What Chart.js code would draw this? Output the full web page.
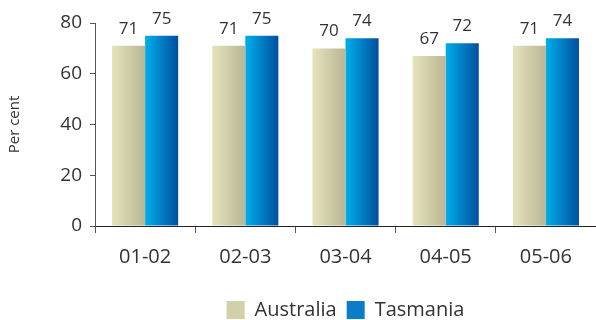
<!DOCTYPE html>
<html><head><meta charset="utf-8">
<script src="https://cdn.jsdelivr.net/npm/chart.js@4/dist/chart.umd.min.js"></script>
<style>html,body{margin:0;padding:0;background:#fff}</style>
</head><body>
<canvas id="c" width="596" height="320"></canvas>
<script>
const categories = ["01-02","02-03","03-04","04-05","05-06"];
const australia = [71,71,70,67,71];
const tasmania = [75,75,74,72,74];
const yTicks = [0,20,40,60,80];
const seriesNames = ["Australia","Tasmania"];

const FONT = "'Open Sans', 'Noto Sans', sans-serif";
const TXT = '#333333';
const gradStops = [['#e4e4bb','#bab594'],['#00aeea','#004f9f']];
const flatColors = ['#d2d0a8','#0a7cc8'];
const CAT_PCT = 0.66;

function barGradient(c){
  const chart = c.chart;
  const ds = c.datasetIndex;
  if (c.type !== 'data' || !chart.chartArea) return flatColors[ds];
  const xs = chart.scales.x;
  const catW = (xs.right - xs.left) / categories.length;
  const barW = catW * CAT_PCT / 2;
  const center = xs.getPixelForValue(c.dataIndex);
  const left = center - barW + ds * barW;
  const g = chart.ctx.createLinearGradient(left, 0, left + barW, 0);
  g.addColorStop(0, gradStops[ds][0]);
  g.addColorStop(1, gradStops[ds][1]);
  return g;
}

const labelPlugin = {
  id:'vals',
  afterDatasetsDraw(chart){
    const ctx = chart.ctx;
    ctx.save();
    ctx.font = "17px " + FONT;
    ctx.fillStyle = TXT;
    ctx.textAlign = 'center';
    ctx.textBaseline = 'alphabetic';
    chart.data.datasets.forEach((ds,i)=>{
      chart.getDatasetMeta(i).data.forEach((el,j)=>{
        ctx.fillText(String(ds.data[j]), el.x, el.y - 12);
      });
    });
    ctx.restore();
  }
};
const legendShift = {
  id:'legendShift',
  afterLayout(chart){
    const lg = chart.legend;
    if (!lg) return;
    const d = (chart.chartArea.left + chart.chartArea.right)/2 - (lg.left + lg.right)/2;
    lg.left += d; lg.right += d;
    const dy = chart.height - lg.bottom + 10;
    lg.top += dy; lg.bottom += dy;
  }
};

new Chart(document.getElementById('c'), {
  type:'bar',
  data:{
    labels: categories,
    datasets:[
      {label:seriesNames[0], data:australia, backgroundColor:barGradient, borderWidth:0},
      {label:seriesNames[1], data:tasmania, backgroundColor:barGradient, borderWidth:0}
    ]
  },
  options:{
    responsive:false, animation:false,
    layout:{padding:{top:23,left:0,right:0,bottom:0}},
    datasets:{bar:{categoryPercentage:CAT_PCT, barPercentage:1}},
    plugins:{
      legend:{position:'bottom', labels:{font:{family:FONT,size:20}, color:TXT, boxWidth:18, boxHeight:18, padding:10,
        generateLabels(chart){
          return chart.data.datasets.map((d,i)=>({text:d.label, fillStyle:flatColors[i], strokeStyle:flatColors[i], lineWidth:0, datasetIndex:i, hidden:false, fontColor:TXT}));
        }}},
      tooltip:{enabled:false}
    },
    scales:{
      x:{
        grid:{offset:true, drawOnChartArea:false, drawTicks:true, tickLength:7, color:'#555', lineWidth:1},
        border:{display:true,color:'#222',width:1},
        ticks:{font:{family:FONT,size:20}, color:TXT, padding:12},
        afterFit(s){ s.height = 54; }
      },
      y:{
        min:0,max:80,
        afterBuildTicks(s){ s.ticks = yTicks.map(v=>({value:v})); },
        grid:{drawOnChartArea:false, drawTicks:true, tickLength:5, color:'#555'},
        border:{display:true,color:'#555',width:1},
        ticks:{font:{family:FONT,size:19}, color:TXT, padding:8},
        title:{display:true, text:'Per cent', font:{family:FONT,size:15}, color:TXT, padding:{top:6,bottom:0}},
        afterFit(s){ s.width = 95; }
      }
    }
  },
  plugins:[labelPlugin, legendShift]
});
</script>
</body></html>
